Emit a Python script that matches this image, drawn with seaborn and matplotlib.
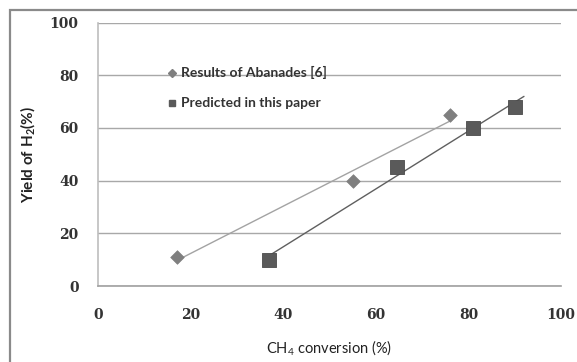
import numpy as np
import pandas as pd
import matplotlib
matplotlib.use("Agg")
import matplotlib.pyplot as plt
import seaborn as sns
from matplotlib.patches import Rectangle
from matplotlib.lines import Line2D

# Data
abanades_x = [17, 55, 76]
abanades_y = [11, 40, 65]
predicted_x = [37, 64.5, 81, 90]
predicted_y = [10, 45, 60, 68]
x_ticks = [0, 20, 40, 60, 80, 100]
y_ticks = [0, 20, 40, 60, 80, 100]
label_abanades = "Results of Abanades [6]"
label_predicted = "Predicted in this paper"

sns.set_theme(style="white")
plt.rcParams['font.family'] = ['Lato', 'DejaVu Sans']
plt.rcParams['mathtext.fontset'] = 'custom'
plt.rcParams['mathtext.rm'] = 'Lato'
plt.rcParams['mathtext.bf'] = 'Lato:bold'

fig = plt.figure(figsize=(5.77, 3.62), dpi=100)
ax = fig.add_axes([0.1698, 0.2099, 0.8025, 0.7279])

df_a = pd.DataFrame({"x": abanades_x, "y": abanades_y})
df_p = pd.DataFrame({"x": predicted_x, "y": predicted_y})

# trend lines (linear fits)
ka, ba = np.polyfit(abanades_x, abanades_y, 1)
kp, bp = np.polyfit(predicted_x, predicted_y, 1)
xa = np.array([min(abanades_x), max(abanades_x)])
xp = np.array([min(predicted_x), max(predicted_x) + 2])
ax.plot(xa, ka * xa + ba, color="#a3a3a3", lw=1.0, zorder=2)
ax.plot(xp, kp * xp + bp, color="#5f5f5f", lw=1.0, zorder=2)

sns.scatterplot(data=df_a, x="x", y="y", ax=ax, marker="D", s=48,
                color="#7f7f7f", edgecolor="#7f7f7f", linewidth=0.5, zorder=3, legend=False)
sns.scatterplot(data=df_p, x="x", y="y", ax=ax, marker="s", s=110,
                color="#5a5a5a", edgecolor="#4a4a4a", linewidth=0.6, zorder=3, legend=False)

ax.set_xlim(0, 100)
ax.set_ylim(0, 100)
ax.set_xticks(x_ticks)
ax.set_yticks(y_ticks)
ax.set_xticklabels([str(v) for v in x_ticks])
ax.set_yticklabels([str(v) for v in y_ticks])
ax.yaxis.grid(True, color="#a8a8a8", lw=1.0)
ax.xaxis.grid(False)
ax.set_axisbelow(True)
for s in ["top", "right"]:
    ax.spines[s].set_visible(False)
for s in ["left", "bottom"]:
    ax.spines[s].set_color("#bdbdbd")
    ax.spines[s].set_linewidth(1.2)
ax.spines["bottom"].set_color("#a0a0a0")

for lbl in ax.get_xticklabels() + ax.get_yticklabels():
    lbl.set_fontfamily(['DejaVu Serif'])
    lbl.set_fontsize(10)
    lbl.set_fontweight('bold')
    lbl.set_color("#333333")
ax.tick_params(axis='x', length=0, pad=16)
ax.tick_params(axis='y', length=0, pad=14)

ax.set_xlabel("CH$_4$ conversion (%)", fontsize=10.5, color="#222222", labelpad=12)
ax.set_ylabel("Yield of H$_\\mathbf{2}$(%)", fontsize=11, fontweight='bold',
              color="#222222", labelpad=8)

handles = [
    Line2D([], [], marker="D", ls="none", color="#7f7f7f", markersize=3.6),
    Line2D([], [], marker="s", ls="none", color="#5a5a5a", markersize=5.0),
]
ax.legend(handles, [label_abanades, label_predicted], loc="upper left",
          bbox_to_anchor=(0.135, 0.86), frameon=False, borderpad=0,
          handlelength=0.7, handletextpad=0.25, labelspacing=1.3,
          prop=dict(family=['Lato', 'DejaVu Sans'], size=10, weight='bold'),
          labelcolor="#333333")

# outer chart border (cropped at right and bottom)
fig.patches.append(Rectangle((10 / 577, -0.2), 1.2, 1.2 - 10 / 362,
                             transform=fig.transFigure, fill=False,
                             edgecolor="#8a8a8a", lw=1.6))

fig.savefig("out.png", dpi=100)
